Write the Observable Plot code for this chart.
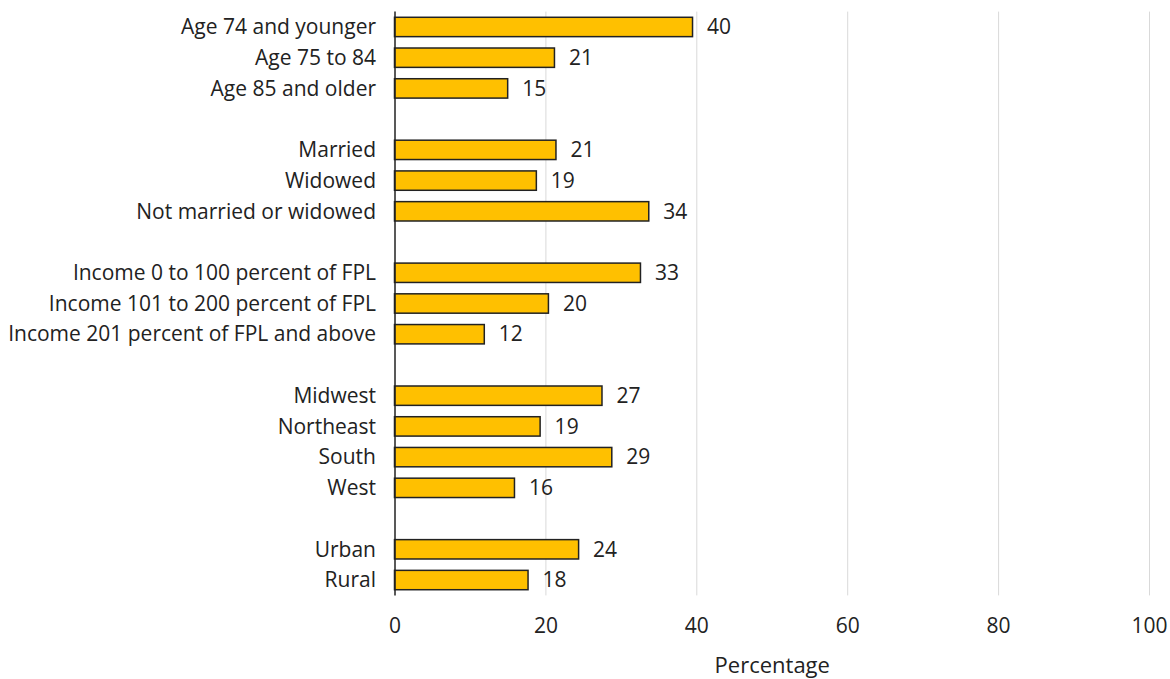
<!DOCTYPE html>
<html>
<head>
<meta charset="utf-8">
<script src="https://cdn.jsdelivr.net/npm/d3@7"></script>
<script src="https://cdn.jsdelivr.net/npm/@observablehq/plot@0.6"></script>
<style>
  html, body { margin: 0; padding: 0; background: #fff; }
  #chart svg { display: block; }
</style>
</head>
<body>
<div id="chart"></div>
<script>
// Categories in display order; "_gap" entries are blank spacer rows between groups
const categories = [
  "Age 74 and younger", "Age 75 to 84", "Age 85 and older",
  "_gap1",
  "Married", "Widowed", "Not married or widowed",
  "_gap2",
  "Income 0 to 100 percent of FPL", "Income 101 to 200 percent of FPL", "Income 201 percent of FPL and above",
  "_gap3",
  "Midwest", "Northeast", "South", "West",
  "_gap4",
  "Urban", "Rural"
];
const barCategories = categories.filter(c => !c.startsWith("_gap"));
const values = [39.5, 21.2, 15.0, 21.4, 18.8, 33.7, 32.6, 20.4, 11.9, 27.5, 19.3, 28.8, 15.9, 24.4, 17.7];
const valueLabels = ["40", "21", "15", "21", "19", "34", "33", "20", "12", "27", "19", "29", "16", "24", "18"];
const xTicks = [0, 20, 40, 60, 80, 100];
const gridTicks = [20, 40, 60, 80, 100];

const data = barCategories.map((c, i) => ({cat: c, value: values[i], label: valueLabels[i]}));

const chart = Plot.plot({
  width: 1170,
  height: 679,
  marginLeft: 394.5,
  marginRight: 21,
  marginTop: 11.6,
  marginBottom: 83.6,
  style: {fontFamily: "'Open Sans', sans-serif", fontSize: "21px", color: "#222", background: "#fff"},
  x: {domain: [0, 100]},
  y: {domain: categories, paddingInner: 0.37, paddingOuter: 0.185, round: false},
  marks: [
    Plot.gridX(gridTicks, {stroke: "#d9d9d9", strokeOpacity: 1, strokeWidth: 1}),
    Plot.barX(data, {x: "value", y: "cat", fill: "#FFC000", stroke: "#222", strokeWidth: 1.5}),
    Plot.text(data, {x: "value", y: "cat", text: "label", dx: 14, textAnchor: "start", fill: "#222", fontSize: 21}),
    Plot.ruleX([0], {stroke: "#222", strokeWidth: 1.5}),
    Plot.axisY({tickSize: 0, tickPadding: 19, label: null, fontSize: 21, tickFormat: d => d.startsWith("_gap") ? "" : d}),
    Plot.axisX(xTicks, {tickSize: 0, tickPadding: 22, label: null, fontSize: 21}),
    Plot.axisX({tickSize: 0, ticks: [], label: "Percentage", labelAnchor: "center", labelArrow: "none", labelOffset: 77, fontSize: 22})
  ]
});
document.getElementById("chart").append(chart);
</script>
</body>
</html>
